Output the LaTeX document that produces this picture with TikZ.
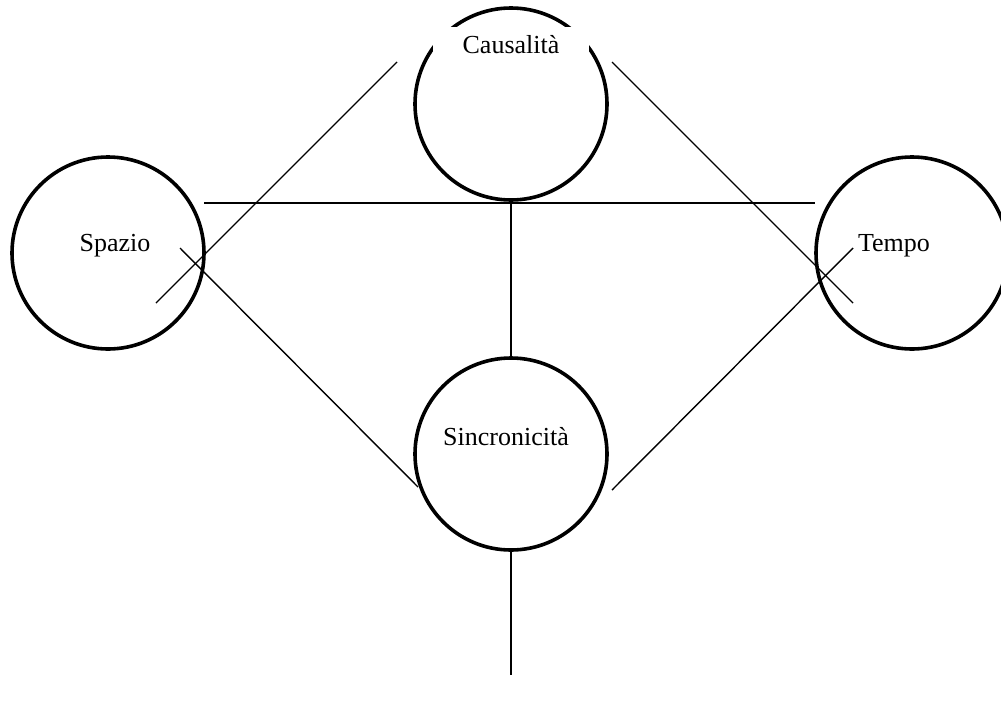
\documentclass[tikz,border=0pt]{standalone}
\usepackage{fontspec}
\setmainfont{Liberation Serif}
\begin{document}
\begin{tikzpicture}[x=1pt,y=-1pt,
  ring/.style={draw,circle,line width=3.6pt,minimum size=192pt,inner sep=0pt},
  conn/.style={line width=1.4pt},
  lbl/.style={font=\fontsize{26}{30}\selectfont,inner sep=0pt}]
\useasboundingbox (0,0) rectangle (1001,702);
\clip (0,0) rectangle (1001,702);
\node[ring] (caus) at (511,104) {};
\node[ring] (spaz) at (108,253) {};
\node[ring] (temp) at (912,253) {};
\node[ring] (sinc) at (511,454) {};
\node[lbl,fill=white,minimum width=156pt,minimum height=36pt] (causL) at (511,45) {Causalità};
\node[lbl] (spazL) at (115,246) {Spazio};
\node[lbl] (tempL) at (894,246) {Tempo};
\node[lbl] (sincL) at (506,437) {Sincronicità};
\coordinate (a1) at (156,303);
\coordinate (a2) at (397,62);
\coordinate (b1) at (612,62);
\coordinate (b2) at (853,303);
\coordinate (h1) at (204,203);
\coordinate (h2) at (815,203);
\coordinate (c1) at (180,248);
\coordinate (c2) at (418,487);
\coordinate (d1) at (853,248);
\coordinate (d2) at (612,490);
\coordinate (bot) at (511,675);
\draw[conn] (a1) -- (a2);
\draw[conn] (b1) -- (b2);
\draw[conn] (h1) -- (h2);
\draw[conn] (caus.south) -- (sinc.north);
\draw[conn] (sinc.south) -- (bot);
\draw[conn] (c1) -- (c2);
\draw[conn] (d1) -- (d2);
\end{tikzpicture}
\end{document}
